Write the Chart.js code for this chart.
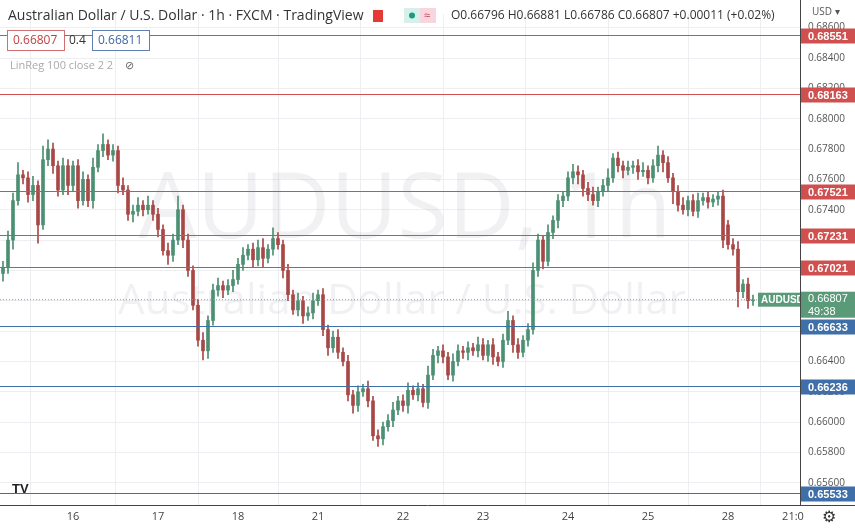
<!DOCTYPE html>
<html><head><meta charset="utf-8">
<script src="https://cdn.jsdelivr.net/npm/chart.js@4.4.0/dist/chart.umd.min.js"></script>
<style>html,body{margin:0;padding:0;background:#fff;}#w{position:relative;width:855px;height:529px;}</style>
</head><body><div id="w"><canvas id="c" width="855" height="529"></canvas></div>
<script>
const closes=[0.6702,0.6720,0.6746,0.6763,0.6761,0.6750,0.6756,0.6730,0.6773,0.6780,0.6769,0.6753,0.6769,0.6756,0.6769,0.6746,0.6760,0.6746,0.6768,0.6779,0.6783,0.6776,0.6779,0.6756,0.6753,0.6737,0.6739,0.6743,0.6740,0.6743,0.6737,0.6727,0.6713,0.6710,0.6720,0.6740,0.6720,0.6700,0.6677,0.6654,0.6647,0.6667,0.6687,0.6690,0.6687,0.6690,0.6694,0.6704,0.6710,0.6714,0.6707,0.6715,0.6708,0.6714,0.6721,0.6717,0.6700,0.6684,0.6674,0.6680,0.6670,0.6672,0.6680,0.6684,0.6661,0.6649,0.6656,0.6646,0.6640,0.6618,0.6611,0.6620,0.6622,0.6614,0.6591,0.6589,0.6597,0.6601,0.6608,0.6614,0.6611,0.6621,0.6618,0.6622,0.6613,0.6631,0.6644,0.6647,0.6643,0.6631,0.6640,0.6647,0.6646,0.6649,0.6647,0.6651,0.6644,0.6651,0.6643,0.6640,0.6654,0.6667,0.6651,0.6646,0.6654,0.6661,0.6700,0.6720,0.6706,0.6725,0.6733,0.6746,0.6749,0.6761,0.6765,0.6763,0.6754,0.6750,0.6746,0.6752,0.6756,0.6761,0.6774,0.6769,0.6766,0.6768,0.6769,0.6765,0.6766,0.6761,0.6769,0.6776,0.6771,0.6761,0.6752,0.6743,0.6740,0.6746,0.6739,0.6746,0.6748,0.6745,0.6747,0.6749,0.6720,0.6717,0.6714,0.6686,0.6691,0.6680,0.66807];
const firstOpen=0.6698;
const gapOpens={145:0.6730};
const upWick=[4,6,5,8,3,4,6,3,9,6,4,3,5,4,3,4,5,3,6,4,7,3,4,3,5,3,4,5,3,6,3,4,3,5,4,9,3,4,3,4,5,3,4,5,3,4,6,4,5,3,4,5,6,3,7,4,3,4,3,5,3,4,5,3,4,3,4,5,3,4,3,4,3,5,3,4,3,4,5,3,4,5,3,4,3,6,4,3,4,3,5,4,3,4,3,5,4,3,4,3,4,6,3,4,3,4,5,4,3,5,3,4,3,4,5,4,3,4,5,3,4,6,3,4,3,4,3,4,5,3,4,6,3,4,3,4,5,3,4,5,3,4,3,3,4,3,4,5,3,4,3];
const dnWick=[5,4,6,3,4,5,4,12,3,4,5,4,3,6,4,5,3,4,5,3,4,3,4,5,3,4,5,3,4,3,4,5,3,6,4,3,5,4,3,4,6,5,3,4,5,3,4,3,4,3,5,4,6,3,4,3,5,4,3,4,5,3,4,3,4,5,3,4,3,4,5,4,3,4,3,5,4,3,4,3,4,5,3,4,3,4,3,5,4,3,4,3,4,5,3,4,3,4,5,3,4,3,5,4,3,4,3,4,5,3,4,5,4,3,4,6,5,4,3,4,3,4,3,4,5,3,4,5,3,4,3,4,6,3,8,4,3,4,3,4,3,4,3,4,5,3,4,10,4,5,3];
const dayTicks=[[14,'16'],[31,'17'],[47,'18'],[63,'21'],[80,'22'],[96,'23'],[113,'24'],[129,'25'],[145,'28'],[158,'21:0']];
const redLevels=[0.68551,0.68163,0.67521,0.67231,0.67021];
const blueLevels=[0.66633,0.66236,0.65533];
const lastPrice=0.66807;

const opens=closes.map((c,i)=>gapOpens[i]!==undefined?gapOpens[i]:(i===0?firstOpen:closes[i-1]));
const idx=closes.map((_,i)=>i);
const UP='#4d8f72',DN='#a84846';
const col=closes.map((c,i)=>c>=opens[i]?UP:DN);
const bodies=closes.map((c,i)=>({x:i,y:[opens[i],c]}));
const wicks=closes.map((c,i)=>({x:i,y:[Math.min(opens[i],c)-dnWick[i]*0.0001,Math.max(opens[i],c)+upWick[i]*0.0001]}));

const deco={id:'deco',
beforeDatasetsDraw(ch){const {ctx}=ch;ctx.save();
 ctx.font='92px "Open Sans",sans-serif';ctx.fillStyle='rgba(150,150,160,0.13)';ctx.textAlign='center';ctx.textBaseline='middle';
 ctx.fillText('AUDUSD, 1h',405,212);
 ctx.font='42px "Open Sans",sans-serif';ctx.fillText('Australian Dollar / U.S. Dollar',402,302);
 ctx.restore();},
afterDatasetsDraw(ch){const {ctx,chartArea:a,scales:{x,y}}=ch;ctx.save();
 ctx.setLineDash([1,2]);ctx.strokeStyle='#999';ctx.lineWidth=1;const py=y.getPixelForValue(lastPrice);
 ctx.beginPath();ctx.moveTo(a.left,py);ctx.lineTo(a.right,py);ctx.stroke();ctx.setLineDash([]);
 const lv=(v,c)=>{const p=Math.round(y.getPixelForValue(v))+0.5;ctx.strokeStyle=c;ctx.beginPath();ctx.moveTo(0,p);ctx.lineTo(a.right,p);ctx.stroke();
  ctx.fillStyle=c;ctx.fillRect(a.right+1,p-7,54,15);ctx.fillStyle='#fff';ctx.font='bold 11px "Liberation Sans",sans-serif';ctx.textAlign='left';ctx.textBaseline='middle';ctx.fillText(v.toFixed(5),a.right+8,p+1);};
 redLevels.forEach(v=>lv(v,'#d05050'));blueLevels.forEach(v=>lv(v,'#3f6fa8'));
 ctx.fillStyle='#5a9a78';ctx.fillRect(a.right-42,py-7,42,14);ctx.fillStyle='#fff';ctx.font='bold 10px "Liberation Sans",sans-serif';ctx.textAlign='left';ctx.fillText('AUDUSD',a.right-39,py+1);
 ctx.fillStyle='#5a9a78';ctx.fillRect(a.right+1,py-8,54,26);ctx.fillStyle='#fff';ctx.font='11px "Liberation Sans",sans-serif';ctx.fillText(lastPrice.toFixed(5),a.right+8,py-1);ctx.fillText('49:38',a.right+8,py+12);
 ctx.strokeStyle='#444';ctx.beginPath();ctx.moveTo(a.right+0.5,0);ctx.lineTo(a.right+0.5,a.bottom);ctx.moveTo(0,a.bottom+0.5);ctx.lineTo(855,a.bottom+0.5);ctx.stroke();
 ctx.fillStyle='#333';ctx.font='14px "Open Sans",sans-serif';ctx.textAlign='left';ctx.fillText('Australian Dollar / U.S. Dollar · 1h · FXCM · TradingView',8,16);
 ctx.fillStyle='#e53935';ctx.fillRect(373,10,10,12);
 ctx.fillStyle='#d8f0ea';ctx.fillRect(404,8,16,15);ctx.fillStyle='#f7d6df';ctx.fillRect(420,8,16,15);
 ctx.fillStyle='#1a9a80';ctx.beginPath();ctx.arc(412,15.5,3,0,7);ctx.fill();ctx.fillStyle='#d04060';ctx.font='11px sans-serif';ctx.fillText('≈',424,16);
 ctx.fillStyle='#333';ctx.font='12px "Open Sans",sans-serif';ctx.fillText('O0.66796 H0.66881 L0.66786 C0.66807 +0.00011 (+0.02%)',451,16);
 ctx.fillStyle='#fff';ctx.strokeStyle='#d07070';ctx.fillRect(7,30,57,20);ctx.strokeRect(7.5,30.5,57,20);ctx.fillStyle='#c04040';ctx.fillText('0.66807',13,41);
 ctx.fillStyle='#333';ctx.fillText('0.4',69,41);
 ctx.fillStyle='#fff';ctx.strokeStyle='#6080b0';ctx.fillRect(92,30,57,20);ctx.strokeRect(92.5,30.5,57,20);ctx.fillStyle='#3f66a8';ctx.fillText('0.66811',98,41);
 ctx.fillStyle='#aaa';ctx.font='11px "Open Sans",sans-serif';ctx.fillText('LinReg 100 close 2 2',10,66);ctx.fillStyle='#666';ctx.fillText('⊘',125,66);
 ctx.fillStyle='#555';ctx.font='10px "Open Sans",sans-serif';ctx.fillText('USD ▾',812,12);
 ctx.fillStyle='#222';ctx.font='bold 13px sans-serif';ctx.fillText('TV',12,489);
 ctx.font='16px sans-serif';ctx.fillStyle='#333';ctx.fillText('⚙',822,518);
 ctx.restore();}};

new Chart(document.getElementById('c'),{type:'bar',
data:{labels:idx,datasets:[
 {data:wicks,backgroundColor:col,barThickness:1,grouped:false,order:2},
 {data:bodies,backgroundColor:col,barThickness:3,grouped:false,order:1}]},
options:{responsive:false,animation:false,devicePixelRatio:1,
 layout:{padding:0},
 plugins:{legend:{display:false},tooltip:{enabled:false}},
 scales:{
  x:{type:'linear',min:-0.6,max:159.4,offset:false,afterFit(s){s.height=24;},
   afterBuildTicks(s){s.ticks=dayTicks.map(t=>({value:t[0]}));},
   ticks:{autoSkip:false,maxRotation:0,color:'#444',font:{size:11,family:'"Open Sans",sans-serif'},padding:5,callback:(v)=>{const t=dayTicks.find(d=>d[0]===v);return t?t[1]:'';}},
   grid:{color:'#eceef2',drawTicks:false},border:{display:false}},
  y:{position:'right',min:0.65454,max:0.68690,afterFit(s){s.width=55;},
   afterBuildTicks(s){const t=[];for(let v=0.656;v<=0.6865;v+=0.002)t.push({value:+v.toFixed(3)});s.ticks=t;},
   ticks:{color:'#555',font:{size:10,family:'"Open Sans",sans-serif'},padding:8,callback:v=>v.toFixed(5)},
   grid:{color:'#eceef2',drawTicks:false},border:{display:false}}}},
plugins:[deco]});
</script></body></html>
